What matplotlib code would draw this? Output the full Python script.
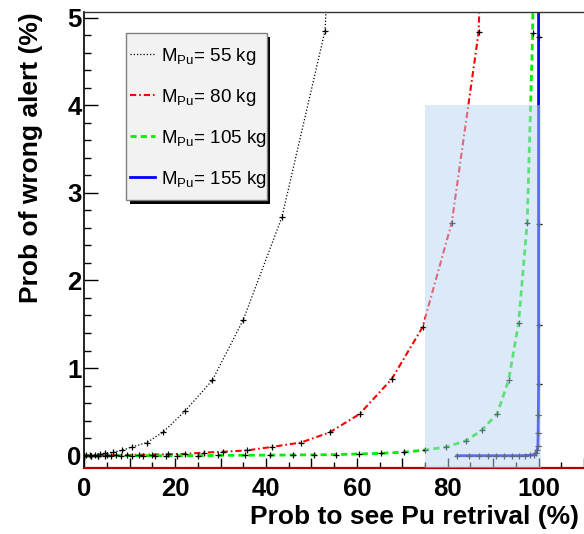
import matplotlib
matplotlib.use("Agg")
import matplotlib.pyplot as plt
from matplotlib.patches import Rectangle
from matplotlib.lines import Line2D
from matplotlib.ticker import MultipleLocator, FuncFormatter

plt.rcParams["font.family"] = ["Liberation Sans", "DejaVu Sans"]
plt.rcParams["font.weight"] = "bold"
plt.rcParams["mathtext.fontset"] = "custom"
plt.rcParams["mathtext.rm"] = "Liberation Sans:normal"

# curve data: x = prob to see Pu retrieval (%), y = prob of wrong alert (%)
masses = [55, 80, 105, 155]

x_55 = [0, 0.4, 1.3, 2.4, 3.5, 4.6, 6.4, 8.3, 10.5, 13.8, 17.4, 22.2, 28.2, 35.0, 43.5, 53.0, 53.45]
y_55 = [0, 0.008, 0.01, 0.012, 0.02, 0.027, 0.04, 0.06, 0.10, 0.15, 0.27, 0.51, 0.86, 1.55, 2.72, 4.85, 5.3]

x_80 = [0, 1.5, 3, 5, 7, 9.5, 12, 15, 18.5, 22.2, 26.3, 30.6, 35.8, 41.3, 47.7, 54.0, 60.6, 67.7, 74.5,
        80.9, 86.8, 87.15]
y_80 = [0, 0.0, 0.002, 0.004, 0.006, 0.008, 0.01, 0.012, 0.016, 0.02, 0.035, 0.045, 0.06, 0.10, 0.15,
        0.265, 0.475, 0.876, 1.47, 2.66, 4.83, 5.4]

x_105 = [0, 1.5, 3, 4.5, 6, 8, 10.5, 13, 15.5, 18, 20.5, 25, 29.5, 35.5, 41, 45.9, 50.5, 55.5, 60.4,
         65.3, 70.3, 75.1, 79.7, 84.0, 87.5, 90.9, 93.4, 95.6, 97.5, 98.7, 98.8]
y_105 = [0, 0, 0, 0, 0, 0, 0, 0, 0, 0, 0, 0, 0.003, 0.005, 0.006, 0.008, 0.01, 0.012, 0.02,
         0.027, 0.04, 0.065, 0.10, 0.17, 0.29, 0.48, 0.86, 1.51, 2.66, 4.82, 5.5]

x_155 = [82.0, 84.6, 86.8, 88.8, 90.7, 92.5, 94.2, 95.6, 97.1, 98.2, 98.9, 99.4, 99.7, 99.85, 99.9,
         99.95, 100.0, 100.0, 100.0, 100.0, 100.0]
y_155 = [0.0, 0.0, 0.0, 0.0, 0.0, 0.0, 0.0, 0.0, 0.002, 0.005, 0.01, 0.03, 0.07, 0.11, 0.26,
         0.46, 0.82, 1.49, 2.64, 4.78, 5.6]

# highlighted region
band_x = (75.0, 100.6)
band_top = 4.0

W, H = 584, 534


def fx(px):
    return px / W


def fy(py):
    return 1 - py / H


fig = plt.figure(figsize=(W / 100, H / 100), dpi=100)
ax = fig.add_axes([fx(84.2), fy(468.3), 1 - fx(84.2), fy(12.3) - fy(468.3)])
ymin, ymax = -0.144, 5.06
ax.set_xlim(0, 110)
ax.set_ylim(ymin, ymax)

series = [
    (x_55, y_55, "black", (0, (1, 1.6)), 0.9),
    (x_80, y_80, "#ff0000", (0, (3, 1.4, 0.8, 1.4)), 1.5),
    (x_105, y_105, "#00ee00", (0, (2.2, 1.5)), 2.0),
    (x_155, y_155, "#0000ff", "-", 2.0),
]
for xs, ys, color, ls, lw in series:
    ax.plot(xs, ys, color=color, linestyle=ls, linewidth=lw, zorder=2)
    ax.plot(xs, ys, linestyle="none", marker="+", markersize=5, markeredgewidth=0.9,
            color="black", zorder=3)

ax.add_patch(Rectangle((band_x[0], ymin), band_x[1] - band_x[0], band_top - ymin,
                       facecolor="#b8d4f5", alpha=0.5, edgecolor="none", zorder=5))

# axes frame, ROOT style
ax.spines["right"].set_visible(False)
ax.spines["top"].set_color("#333333")
ax.spines["top"].set_linewidth(1.0)
ax.spines["left"].set_linewidth(1.2)
ax.spines["bottom"].set_color("#b00000")
ax.spines["bottom"].set_linewidth(1.6)

ax.xaxis.set_major_locator(MultipleLocator(10))
ax.xaxis.set_minor_locator(MultipleLocator(5))
ax.xaxis.set_major_formatter(FuncFormatter(lambda v, p: f"{v:.0f}" if round(v) % 20 == 0 else ""))
ax.yaxis.set_major_locator(MultipleLocator(1))
ax.yaxis.set_minor_locator(MultipleLocator(0.2))

ax.tick_params(axis="x", which="major", direction="in", length=7.5, width=1, pad=6, labelsize=18.5)
ax.tick_params(axis="x", which="minor", direction="in", length=4.5, width=1)
ax.tick_params(axis="y", which="major", direction="in", length=10, width=1, pad=2, labelsize=18.5)
ax.tick_params(axis="y", which="minor", direction="in", length=5, width=1)

fig.text(fx(579), fy(524), "Prob to see Pu retrival (%)", ha="right", va="baseline",
         fontsize=19, fontweight="bold")
fig.text(fx(31), fy(12), "Prob of wrong alert (%)", ha="center", va="top", rotation=90,
         fontsize=19, fontweight="bold")

# legend box with shadow
box_l, box_t, box_r, box_b = 126, 33.3, 266.7, 200
shadow = 3.5
fig.patches.append(Rectangle((fx(box_l + shadow), fy(box_b + shadow)), fx(box_r - box_l),
                             fy(box_t) - fy(box_b), transform=fig.transFigure,
                             facecolor="black", edgecolor="none", zorder=10))
fig.patches.append(Rectangle((fx(box_l), fy(box_b)), fx(box_r - box_l), fy(box_t) - fy(box_b),
                             transform=fig.transFigure, facecolor="#f2f2f2",
                             edgecolor="#7f7f7f", linewidth=1, zorder=11))
row_base = [60.7, 101.7, 142.7, 183.7]
for (xs, ys, color, ls, lw), mass, base in zip(series, masses, row_base):
    fig.lines.append(Line2D([fx(130), fx(155)], [fy(base - 6.6)] * 2, transform=fig.transFigure,
                            color=color, linestyle=ls, linewidth=lw, zorder=12))
    fig.text(fx(160.7), fy(base), r"M$_{\rm Pu}$= " + f"{mass} kg", ha="left", va="baseline",
             fontsize=13.5, fontweight="normal", zorder=12)

fig.savefig("out.png", dpi=100)
